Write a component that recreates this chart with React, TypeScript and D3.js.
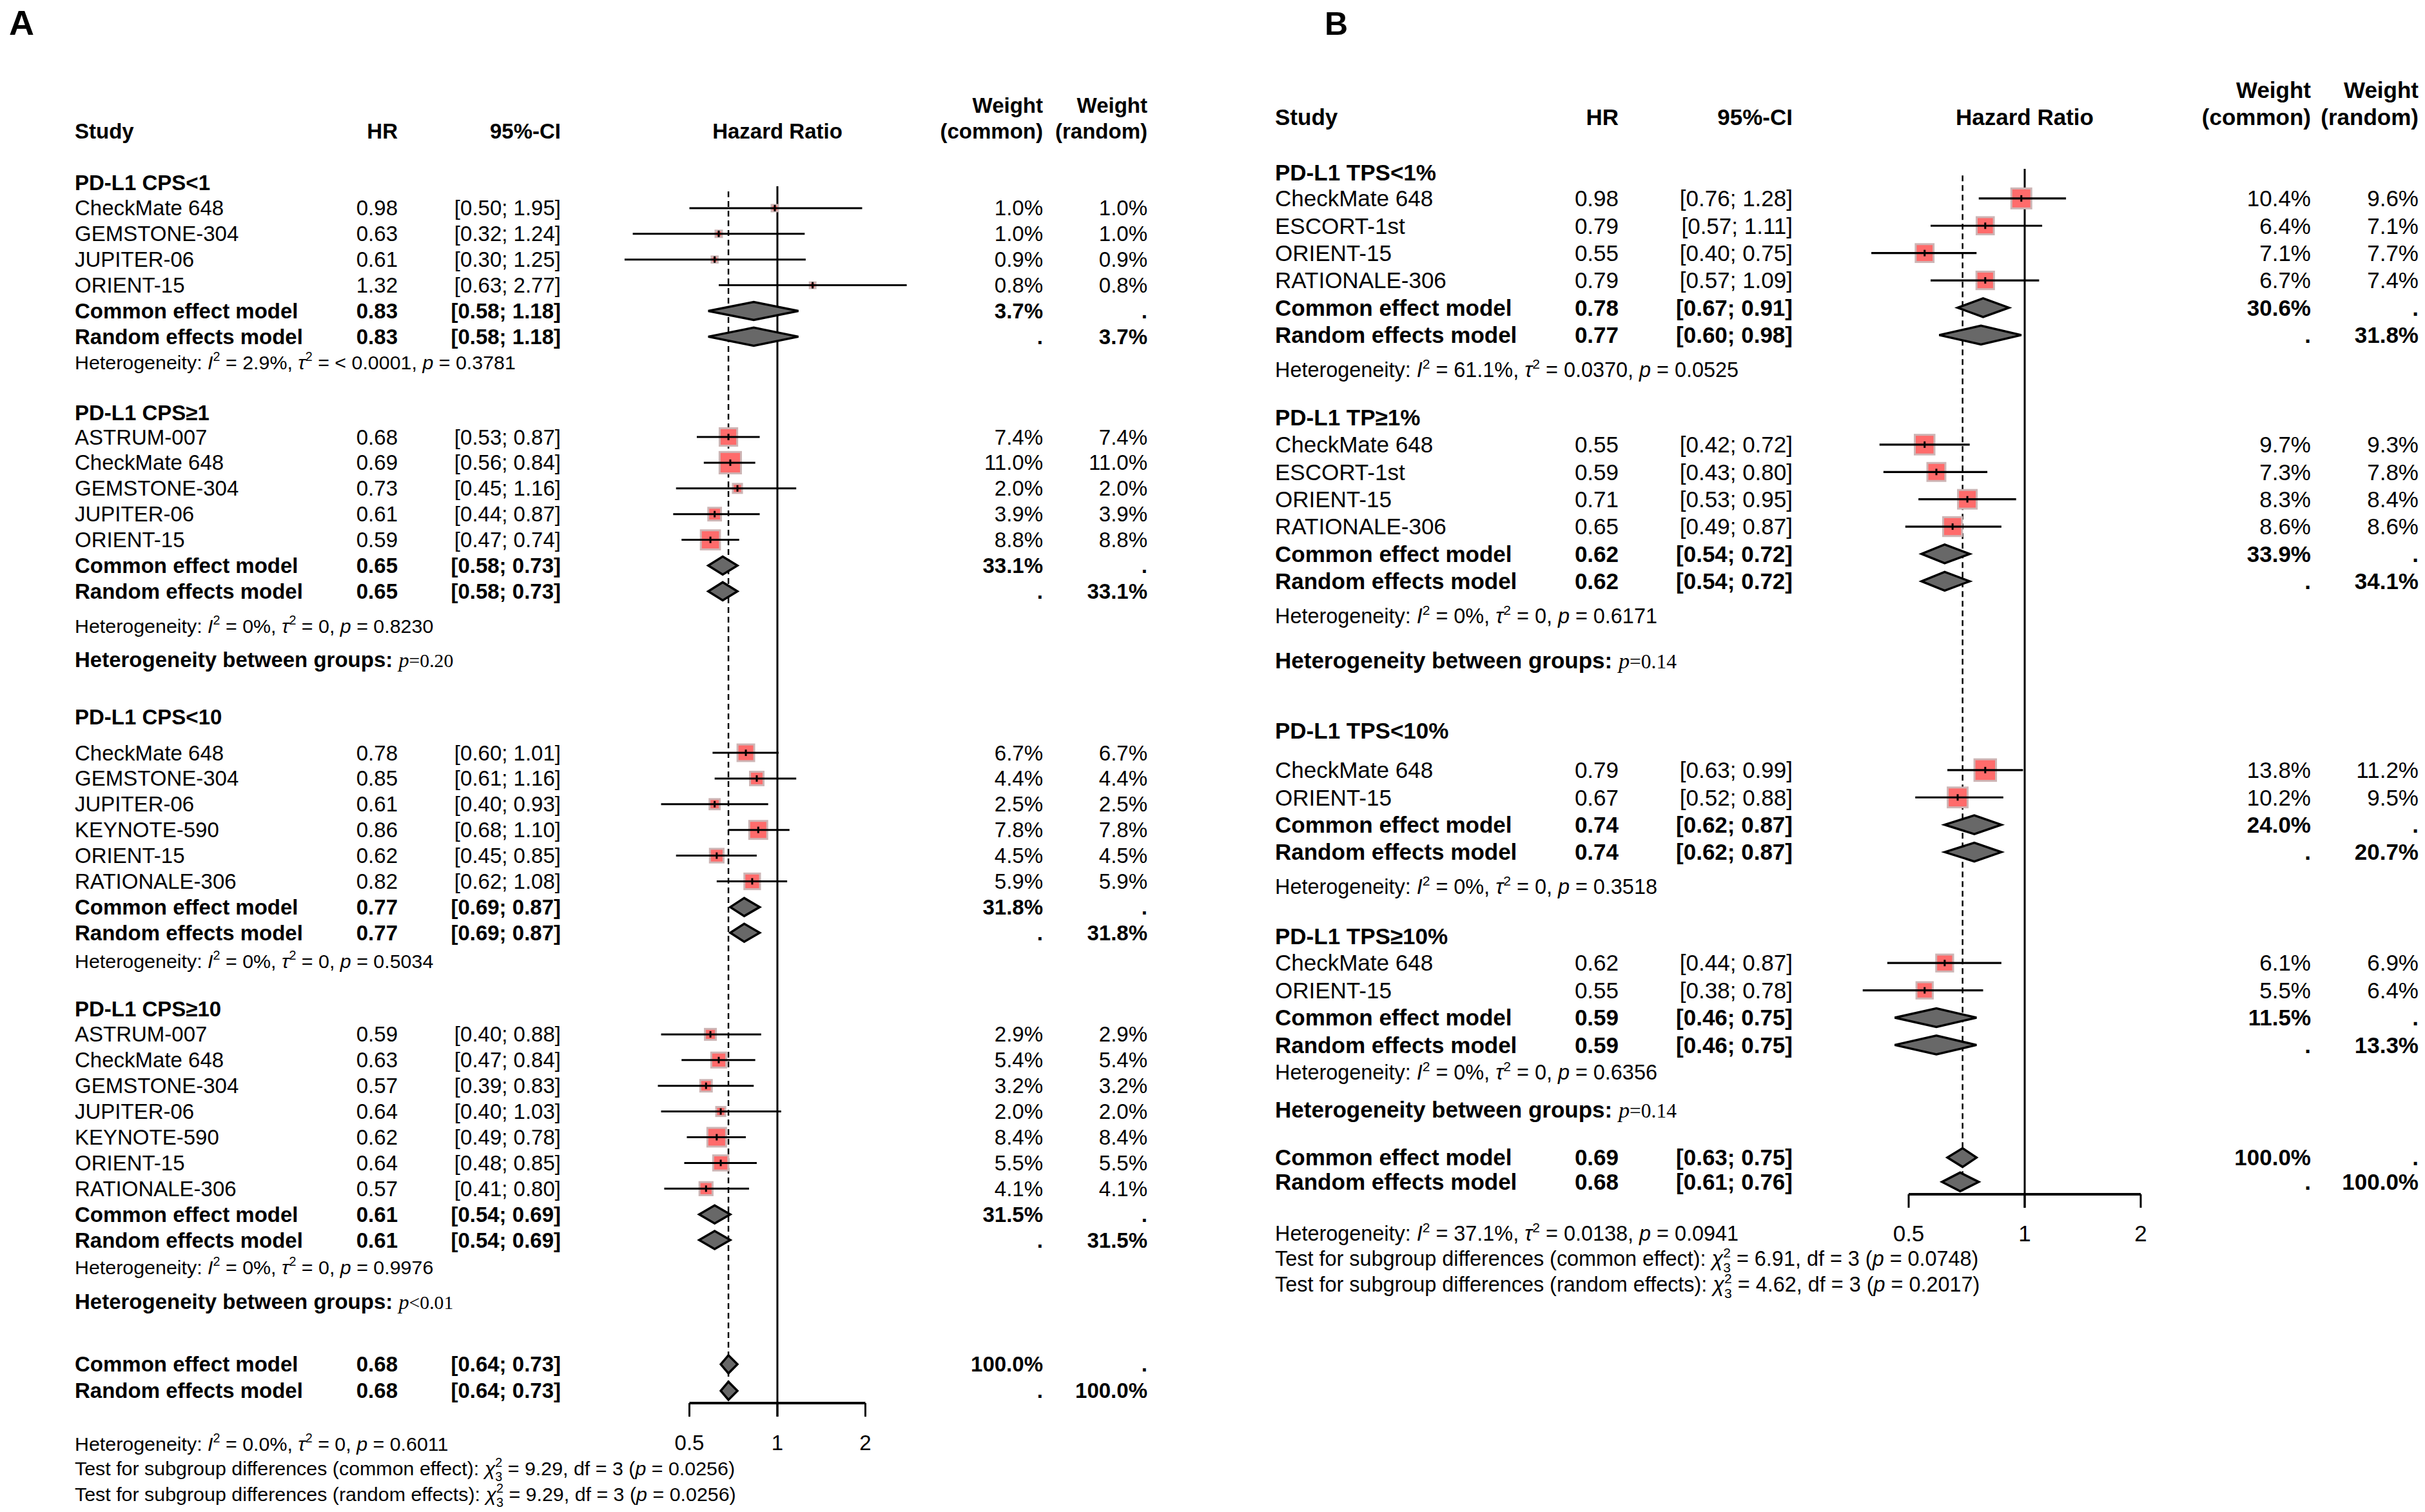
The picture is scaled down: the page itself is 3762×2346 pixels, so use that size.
import React from "react"
import * as d3 from "d3"

// ---------- Types ----------
interface Study { name: string; hr: number; lo: number; hi: number; wc: number; wr: number }
interface Pooled { hr: number; lo: number; hi: number; w: number }
interface Het { i2: string; tau2: string; p: string }
interface SubTest { label: string; chi: string; df: string; p: string }

// ---------- Data: panel A (PD-L1 CPS) ----------
const groupsA = ["PD-L1   CPS<1", "PD-L1   CPS\u22651", "PD-L1   CPS<10", "PD-L1   CPS\u226510"]

const studiesA: Study[][] = [
    [
        { name: "CheckMate 648", hr: 0.98, lo: 0.50, hi: 1.95, wc: 1.0, wr: 1.0 },
        { name: "GEMSTONE-304", hr: 0.63, lo: 0.32, hi: 1.24, wc: 1.0, wr: 1.0 },
        { name: "JUPITER-06", hr: 0.61, lo: 0.30, hi: 1.25, wc: 0.9, wr: 0.9 },
        { name: "ORIENT-15", hr: 1.32, lo: 0.63, hi: 2.77, wc: 0.8, wr: 0.8 },
    ],
    [
        { name: "ASTRUM-007", hr: 0.68, lo: 0.53, hi: 0.87, wc: 7.4, wr: 7.4 },
        { name: "CheckMate 648", hr: 0.69, lo: 0.56, hi: 0.84, wc: 11.0, wr: 11.0 },
        { name: "GEMSTONE-304", hr: 0.73, lo: 0.45, hi: 1.16, wc: 2.0, wr: 2.0 },
        { name: "JUPITER-06", hr: 0.61, lo: 0.44, hi: 0.87, wc: 3.9, wr: 3.9 },
        { name: "ORIENT-15", hr: 0.59, lo: 0.47, hi: 0.74, wc: 8.8, wr: 8.8 },
    ],
    [
        { name: "CheckMate 648", hr: 0.78, lo: 0.60, hi: 1.01, wc: 6.7, wr: 6.7 },
        { name: "GEMSTONE-304", hr: 0.85, lo: 0.61, hi: 1.16, wc: 4.4, wr: 4.4 },
        { name: "JUPITER-06", hr: 0.61, lo: 0.40, hi: 0.93, wc: 2.5, wr: 2.5 },
        { name: "KEYNOTE-590", hr: 0.86, lo: 0.68, hi: 1.10, wc: 7.8, wr: 7.8 },
        { name: "ORIENT-15", hr: 0.62, lo: 0.45, hi: 0.85, wc: 4.5, wr: 4.5 },
        { name: "RATIONALE-306", hr: 0.82, lo: 0.62, hi: 1.08, wc: 5.9, wr: 5.9 },
    ],
    [
        { name: "ASTRUM-007", hr: 0.59, lo: 0.40, hi: 0.88, wc: 2.9, wr: 2.9 },
        { name: "CheckMate 648", hr: 0.63, lo: 0.47, hi: 0.84, wc: 5.4, wr: 5.4 },
        { name: "GEMSTONE-304", hr: 0.57, lo: 0.39, hi: 0.83, wc: 3.2, wr: 3.2 },
        { name: "JUPITER-06", hr: 0.64, lo: 0.40, hi: 1.03, wc: 2.0, wr: 2.0 },
        { name: "KEYNOTE-590", hr: 0.62, lo: 0.49, hi: 0.78, wc: 8.4, wr: 8.4 },
        { name: "ORIENT-15", hr: 0.64, lo: 0.48, hi: 0.85, wc: 5.5, wr: 5.5 },
        { name: "RATIONALE-306", hr: 0.57, lo: 0.41, hi: 0.80, wc: 4.1, wr: 4.1 },
    ],
]

const commonA: Pooled[] = [
    { hr: 0.83, lo: 0.58, hi: 1.18, w: 3.7 },
    { hr: 0.65, lo: 0.58, hi: 0.73, w: 33.1 },
    { hr: 0.77, lo: 0.69, hi: 0.87, w: 31.8 },
    { hr: 0.61, lo: 0.54, hi: 0.69, w: 31.5 },
]
const randomA: Pooled[] = [
    { hr: 0.83, lo: 0.58, hi: 1.18, w: 3.7 },
    { hr: 0.65, lo: 0.58, hi: 0.73, w: 33.1 },
    { hr: 0.77, lo: 0.69, hi: 0.87, w: 31.8 },
    { hr: 0.61, lo: 0.54, hi: 0.69, w: 31.5 },
]
const hetA: Het[] = [
    { i2: "2.9%", tau2: "< 0.0001", p: "0.3781" },
    { i2: "0%", tau2: "0", p: "0.8230" },
    { i2: "0%", tau2: "0", p: "0.5034" },
    { i2: "0%", tau2: "0", p: "0.9976" },
]
const betweenA: (string | null)[] = [null, "=0.20", null, "<0.01"]
const overallA: Pooled[] = [
    { hr: 0.68, lo: 0.64, hi: 0.73, w: 100.0 },
    { hr: 0.68, lo: 0.64, hi: 0.73, w: 100.0 },
]
const overallHetA: Het = { i2: "0.0%", tau2: "0", p: "0.6011" }
const testsA: SubTest[] = [
    { label: "common effect", chi: "9.29", df: "3", p: "0.0256" },
    { label: "random effects", chi: "9.29", df: "3", p: "0.0256" },
]

// ---------- Data: panel B (PD-L1 TPS) ----------
const groupsB = ["PD-L1 TPS<1%", "PD-L1  TP\u22651%", "PD-L1  TPS<10%", "PD-L1  TPS\u226510%"]

const studiesB: Study[][] = [
    [
        { name: "CheckMate 648", hr: 0.98, lo: 0.76, hi: 1.28, wc: 10.4, wr: 9.6 },
        { name: "ESCORT-1st", hr: 0.79, lo: 0.57, hi: 1.11, wc: 6.4, wr: 7.1 },
        { name: "ORIENT-15", hr: 0.55, lo: 0.40, hi: 0.75, wc: 7.1, wr: 7.7 },
        { name: "RATIONALE-306", hr: 0.79, lo: 0.57, hi: 1.09, wc: 6.7, wr: 7.4 },
    ],
    [
        { name: "CheckMate 648", hr: 0.55, lo: 0.42, hi: 0.72, wc: 9.7, wr: 9.3 },
        { name: "ESCORT-1st", hr: 0.59, lo: 0.43, hi: 0.80, wc: 7.3, wr: 7.8 },
        { name: "ORIENT-15", hr: 0.71, lo: 0.53, hi: 0.95, wc: 8.3, wr: 8.4 },
        { name: "RATIONALE-306", hr: 0.65, lo: 0.49, hi: 0.87, wc: 8.6, wr: 8.6 },
    ],
    [
        { name: "CheckMate 648", hr: 0.79, lo: 0.63, hi: 0.99, wc: 13.8, wr: 11.2 },
        { name: "ORIENT-15", hr: 0.67, lo: 0.52, hi: 0.88, wc: 10.2, wr: 9.5 },
    ],
    [
        { name: "CheckMate 648", hr: 0.62, lo: 0.44, hi: 0.87, wc: 6.1, wr: 6.9 },
        { name: "ORIENT-15", hr: 0.55, lo: 0.38, hi: 0.78, wc: 5.5, wr: 6.4 },
    ],
]
const commonB: Pooled[] = [
    { hr: 0.78, lo: 0.67, hi: 0.91, w: 30.6 },
    { hr: 0.62, lo: 0.54, hi: 0.72, w: 33.9 },
    { hr: 0.74, lo: 0.62, hi: 0.87, w: 24.0 },
    { hr: 0.59, lo: 0.46, hi: 0.75, w: 11.5 },
]
const randomB: Pooled[] = [
    { hr: 0.77, lo: 0.60, hi: 0.98, w: 31.8 },
    { hr: 0.62, lo: 0.54, hi: 0.72, w: 34.1 },
    { hr: 0.74, lo: 0.62, hi: 0.87, w: 20.7 },
    { hr: 0.59, lo: 0.46, hi: 0.75, w: 13.3 },
]
const hetB: Het[] = [
    { i2: "61.1%", tau2: "0.0370", p: "0.0525" },
    { i2: "0%", tau2: "0", p: "0.6171" },
    { i2: "0%", tau2: "0", p: "0.3518" },
    { i2: "0%", tau2: "0", p: "0.6356" },
]
const betweenB: (string | null)[] = [null, "=0.14", null, "=0.14"]
const overallB: Pooled[] = [
    { hr: 0.69, lo: 0.63, hi: 0.75, w: 100.0 },
    { hr: 0.68, lo: 0.61, hi: 0.76, w: 100.0 },
]
const overallHetB: Het = { i2: "37.1%", tau2: "0.0138", p: "0.0941" }
const testsB: SubTest[] = [
    { label: "common effect", chi: "6.91", df: "3", p: "0.0748" },
    { label: "random effects", chi: "4.62", df: "3", p: "0.2017" },
]

const xTicks = [0.5, 1, 2]

// ---------- Layout (row lines, not data) ----------
interface GroupLayout { hdr: number; first: number; het: number; between?: number }
interface Geo {
    tag: string; tagX: number; tagSize: number
    cols: { study: number; hr: number; ci: number; wc: number; wr: number }
    xRange: [number, number]
    y0: number; unit: number
    fs: number; fsHet: number; boxK: number; diaH: number; lw: number
    weightLine: number; headerLine: number
    groups: GroupLayout[]
    overall: [number, number]
    axis: number; tickLabel: number; het: number; tests: [number, number]
    refTop: number; dashTop: number
}

const geoA: Geo = {
    tag: "A", tagX: 14, tagSize: 54,
    cols: { study: 116, hr: 617, ci: 870, wc: 1618, wr: 1780 },
    xRange: [1069.5, 1342.5],
    y0: 283, unit: 39.9,
    fs: 33, fsHet: 30.4, boxK: 10, diaH: 14, lw: 3,
    weightLine: -3.0, headerLine: -2.0,
    groups: [
        { hdr: 0, first: 1, het: 7 },
        { hdr: 8.95, first: 9.9, het: 17.24, between: 18.55 },
        { hdr: 20.78, first: 22.18, het: 30.28 },
        { hdr: 32.13, first: 33.13, het: 42.18, between: 43.53 },
    ],
    overall: [45.96, 46.99],
    axis: 47.47, tickLabel: 49.0, het: 49.05, tests: [50.0, 51.0],
    refTop: 0.15, dashTop: 0.35,
}

const geoB: Geo = {
    tag: "B", tagX: 2055, tagSize: 50,
    cols: { study: 1978, hr: 2511, ci: 2781, wc: 3585, wr: 3752 },
    xRange: [2961, 3321],
    y0: 268, unit: 42.4,
    fs: 35, fsHet: 32.4, boxK: 10, diaH: 14.5, lw: 3.2,
    weightLine: -3.02, headerLine: -2.03,
    groups: [
        { hdr: 0, first: 0.94, het: 7.22 },
        { hdr: 8.96, first: 9.95, het: 16.23, between: 17.85 },
        { hdr: 20.42, first: 21.86, het: 26.13 },
        { hdr: 27.95, first: 28.92, het: 32.92, between: 34.29 },
    ],
    overall: [36.04, 36.93],
    axis: 37.38, tickLabel: 38.82, het: 38.82, tests: [39.74, 40.68],
    refTop: -0.14, dashTop: 0.1,
}

// ---------- Helpers ----------
const f2 = d3.format(".2f")
const f1 = d3.format(".1f")
const ciText = (lo: number, hi: number) => `[${f2(lo)}; ${f2(hi)}]`
const SERIF = "'Liberation Serif', 'Times New Roman', serif"

const hetSpans = (h: Het, fs: number) => {
    const s = fs * 0.65
    const up = fs * 0.42
    return [
        <tspan key="a">Heterogeneity: </tspan>,
        <tspan key="b" fontStyle="italic">I</tspan>,
        <tspan key="c" fontSize={s} dy={-up}>2</tspan>,
        <tspan key="d" dy={up}>{` = ${h.i2}, `}</tspan>,
        <tspan key="e" fontStyle="italic">{"\u03c4"}</tspan>,
        <tspan key="f" fontSize={s} dy={-up}>2</tspan>,
        <tspan key="g" dy={up}>{` = ${h.tau2}, `}</tspan>,
        <tspan key="h" fontStyle="italic">p</tspan>,
        <tspan key="i">{` = ${h.p}`}</tspan>,
    ]
}

const testSpans = (t: SubTest, fs: number) => {
    const s = fs * 0.65
    const up = fs * 0.42
    const down = fs * 0.3
    return [
        <tspan key="a">{`Test for subgroup differences (${t.label}): `}</tspan>,
        <tspan key="b" fontStyle="italic">{"\u03c7"}</tspan>,
        <tspan key="c" fontSize={s} dy={-up}>2</tspan>,
        <tspan key="d" fontSize={s} dx={-s * 0.556} dy={up + down}>{t.df}</tspan>,
        <tspan key="e" dy={-down}>{` = ${t.chi}, df = ${t.df} (`}</tspan>,
        <tspan key="f" fontStyle="italic">p</tspan>,
        <tspan key="g">{` = ${t.p})`}</tspan>,
    ]
}

// ---------- Panel ----------
interface PanelProps {
    geo: Geo
    groups: string[]
    studies: Study[][]
    common: Pooled[]
    random: Pooled[]
    het: Het[]
    between: (string | null)[]
    overall: Pooled[]
    overallHet: Het
    tests: SubTest[]
}

const Panel: React.FC<PanelProps> = ({ geo, groups, studies, common, random, het, between, overall, overallHet, tests }) => {
    const x = d3.scaleLog().domain([0.5, 2]).range(geo.xRange)
    const y = d3.scaleLinear().domain([0, 1]).range([geo.y0, geo.y0 + geo.unit])
    const { cols, fs } = geo
    const els: React.ReactNode[] = []

    const txt = (key: string, tx: number, ty: number, s: React.ReactNode, anchor = "start", bold = false, size = fs) => (
        <text key={key} x={tx} y={ty} dy="0.35em" textAnchor={anchor} fontWeight={bold ? "bold" : "normal"} fontSize={size}>{s}</text>
    )

    const diamond = (key: string, d: Pooled, yy: number) => {
        const h = geo.diaH
        const pts = [[x(d.lo), yy], [x(d.hr), yy - h], [x(d.hi), yy], [x(d.hr), yy + h]]
        return <polygon key={key} points={pts.map(p => p.join(",")).join(" ")} fill="#686868" stroke="#000" strokeWidth={3.5} strokeLinejoin="miter" />
    }

    const pooledRow = (key: string, label: string, d: Pooled, yy: number, isCommon: boolean) => {
        els.push(txt(key + "n", cols.study, yy, label, "start", true))
        els.push(txt(key + "h", cols.hr, yy, f2(d.hr), "end", true))
        els.push(txt(key + "c", cols.ci, yy, ciText(d.lo, d.hi), "end", true))
        els.push(txt(key + "wc", cols.wc, yy, isCommon ? `${f1(d.w)}%` : ".", "end", true))
        els.push(txt(key + "wr", cols.wr, yy, isCommon ? "." : `${f1(d.w)}%`, "end", true))
        els.push(diamond(key + "d", d, yy))
    }

    // header
    const yW = y(geo.weightLine)
    const yH = y(geo.headerLine)
    els.push(txt("hs", cols.study, yH, "Study", "start", true))
    els.push(txt("hh", cols.hr, yH, "HR", "end", true))
    els.push(txt("hc", cols.ci, yH, "95%-CI", "end", true))
    els.push(txt("hp", x(1), yH, "Hazard Ratio", "middle", true))
    els.push(txt("hwc1", cols.wc, yW, "Weight", "end", true))
    els.push(txt("hwc2", cols.wc, yH, "(common)", "end", true))
    els.push(txt("hwr1", cols.wr, yW, "Weight", "end", true))
    els.push(txt("hwr2", cols.wr, yH, "(random)", "end", true))

    // reference lines
    const yAxis = y(geo.axis)
    const tickLen = 21
    const yLastDia = y(geo.overall[1]) + geo.diaH
    els.push(<line key="ref1" x1={x(1)} x2={x(1)} y1={y(geo.refTop)} y2={yAxis + tickLen} stroke="#000" strokeWidth={3} />)
    els.push(<line key="refc" x1={x(overall[0].hr)} x2={x(overall[0].hr)} y1={y(geo.dashTop)} y2={yLastDia} stroke="#000" strokeWidth={2.5} strokeDasharray="9 6" />)

    groups.forEach((gl, gi) => {
        const L = geo.groups[gi]
        els.push(txt(`g${gi}`, cols.study, y(L.hdr), gl, "start", true))
        const list = studies[gi]
        list.forEach((s, si) => {
            const yy = y(L.first + si)
            const k = `s${gi}_${si}`
            const side = geo.boxK * Math.sqrt(s.wr)
            els.push(txt(k + "n", cols.study, yy, s.name))
            els.push(txt(k + "h", cols.hr, yy, f2(s.hr), "end"))
            els.push(txt(k + "c", cols.ci, yy, ciText(s.lo, s.hi), "end"))
            els.push(txt(k + "wc", cols.wc, yy, `${f1(s.wc)}%`, "end"))
            els.push(txt(k + "wr", cols.wr, yy, `${f1(s.wr)}%`, "end"))
            els.push(<rect key={k + "b"} x={x(s.hr) - side / 2} y={yy - side / 2} width={side} height={side} fill="#ff6b6b" stroke="#cdb5b5" strokeWidth={3} />)
            els.push(<line key={k + "l"} x1={x(s.lo)} x2={x(s.hi)} y1={yy} y2={yy} stroke="#000" strokeWidth={geo.lw} />)
            els.push(<line key={k + "t"} x1={x(s.hr)} x2={x(s.hr)} y1={yy - 5} y2={yy + 5} stroke="#000" strokeWidth={3} />)
        })
        pooledRow(`c${gi}`, "Common effect model", common[gi], y(L.first + list.length), true)
        pooledRow(`r${gi}`, "Random effects model", random[gi], y(L.first + list.length + 1), false)
        els.push(
            <text key={`het${gi}`} x={cols.study} y={y(L.het)} dy="0.35em" fontSize={geo.fsHet}>{hetSpans(het[gi], geo.fsHet)}</text>
        )
        const b = between[gi]
        if (b && L.between !== undefined) {
            els.push(
                <text key={`bt${gi}`} x={cols.study} y={y(L.between)} dy="0.35em" fontSize={fs} fontWeight="bold">
                    {"Heterogeneity between groups:  "}
                    <tspan fontFamily={SERIF} fontWeight="normal" fontStyle="italic" fontSize={fs * 0.98}>p</tspan>
                    <tspan fontFamily={SERIF} fontWeight="normal" fontSize={fs * 0.9}>{b}</tspan>
                </text>
            )
        }
    })

    pooledRow("oc", "Common effect model", overall[0], y(geo.overall[0]), true)
    pooledRow("or", "Random effects model", overall[1], y(geo.overall[1]), false)

    // axis
    els.push(<line key="ax" x1={x(0.5)} x2={x(2)} y1={yAxis} y2={yAxis} stroke="#000" strokeWidth={4} />)
    xTicks.forEach((t, i) => {
        els.push(<line key={`tk${i}`} x1={x(t)} x2={x(t)} y1={yAxis} y2={yAxis + tickLen} stroke="#000" strokeWidth={3} />)
        els.push(txt(`tl${i}`, x(t), y(geo.tickLabel), String(t), "middle"))
    })

    els.push(<text key="ohet" x={cols.study} y={y(geo.het)} dy="0.35em" fontSize={geo.fsHet}>{hetSpans(overallHet, geo.fsHet)}</text>)
    tests.forEach((t, i) => {
        els.push(<text key={`tst${i}`} x={cols.study} y={y(geo.tests[i])} dy="0.35em" fontSize={geo.fsHet}>{testSpans(t, geo.fsHet)}</text>)
    })

    els.push(<text key="tag" x={geo.tagX} y={54} fontSize={geo.tagSize} fontWeight="bold">{geo.tag}</text>)

    return <g>{els}</g>
}

// ---------- App ----------
export default function App() {
    const W = 3762
    const H = 2346
    return (
        <svg
            width={W}
            height={H}
            viewBox={`0 0 ${W} ${H}`}
            style={{ position: "absolute", left: 0, top: 0, whiteSpace: "pre", fontFamily: "'Liberation Sans', Arial, Helvetica, sans-serif" }}
        >
            <rect width={W} height={H} fill="#fff" />
            <Panel geo={geoA} groups={groupsA} studies={studiesA} common={commonA} random={randomA}
                het={hetA} between={betweenA} overall={overallA} overallHet={overallHetA} tests={testsA} />
            <Panel geo={geoB} groups={groupsB} studies={studiesB} common={commonB} random={randomB}
                het={hetB} between={betweenB} overall={overallB} overallHet={overallHetB} tests={testsB} />
        </svg>
    )
}
